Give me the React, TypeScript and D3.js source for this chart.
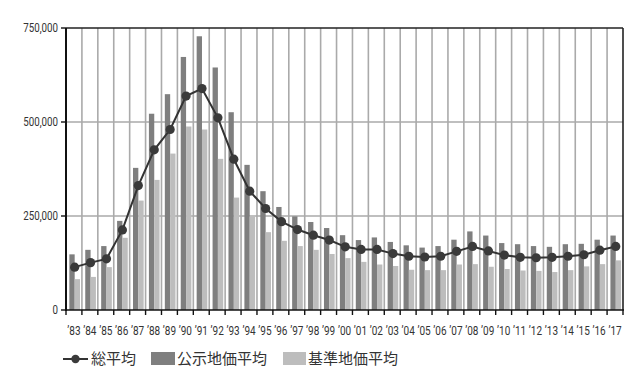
import React from "react";
import * as d3 from "d3";

const years = ["83","84","85","86","87","88","89","90","91","92","93","94","95","96","97","98","99","00","01","02","03","04","05","06","07","08","09","10","11","12","13","14","15","16","17"];
const kojiAvg = [148,160,170,237,378,522,574,673,728,645,526,386,316,274,249,234,218,199,186,193,181,172,166,170,187,209,198,178,175,170,168,175,176,187,198];
const kijunAvg = [82,88,114,192,291,346,416,488,480,402,299,250,207,184,170,160,149,138,128,121,117,107,106,106,121,122,115,109,105,104,101,106,116,122,132];
const totalAvg = [114,126,136,213,331,426,480,569,589,511,401,316,270,235,214,199,186,168,161,161,150,143,141,143,156,169,157,146,140,139,140,143,147,159,169];
const yTicks = [0, 250000, 500000, 750000];
const legendLabels = ["総平均", "公示地価平均", "基準地価平均"];

const W = 640, H = 380;
const left = 66, right = 623, top = 28, bottom = 310;
const DARK = "#7f7f7f", LIGHT = "#bdbdbd", LINE = "#333333", GRID = "#aaaaaa";
const numFont = "Roboto, 'Noto Sans', sans-serif";
const jpFont = "'Noto Sans CJK JP', sans-serif";

export default function App() {
  const x = d3.scaleBand<string>().domain(years).range([left, right]).padding(0);
  const bw = x.bandwidth();
  const inner = d3.scaleBand<string>().domain(["k", "j"]).range([bw * 0.21, bw * 0.88]).padding(0);
  const y = d3.scaleLinear().domain([0, 750000]).range([bottom, top]);
  const line = d3.line<number>()
    .x((_, i) => (x(years[i]) as number) + inner("j")!)
    .y((v) => y(v * 1000));
  const fmt = d3.format(",");
  const boundaries = years.map((yr) => x(yr) as number).concat([right]);

  return (
    <svg width={W} height={H} style={{ position: "absolute", left: 0, top: 0, background: "#fff" }}>
      {boundaries.slice(1, -1).map((bx, i) => (
        <line key={"vg" + i} x1={bx} x2={bx} y1={top} y2={bottom} stroke={GRID} strokeWidth={1.6} />
      ))}
      {yTicks.slice(1, -1).map((t) => (
        <line key={"hg" + t} x1={left} x2={right} y1={y(t)} y2={y(t)} stroke={GRID} strokeWidth={1.6} />
      ))}
      {years.map((yr, i) => (
        <g key={"b" + yr}>
          <rect x={(x(yr) as number) + inner("k")!} y={y(kojiAvg[i] * 1000)} width={inner.bandwidth()} height={bottom - y(kojiAvg[i] * 1000)} fill={DARK} />
          <rect x={(x(yr) as number) + inner("j")!} y={y(kijunAvg[i] * 1000)} width={inner.bandwidth()} height={bottom - y(kijunAvg[i] * 1000)} fill={LIGHT} />
        </g>
      ))}
      <line x1={left} x2={right} y1={top} y2={top} stroke="#222" strokeWidth={1.6} />
      <line x1={right} x2={right} y1={top} y2={bottom} stroke="#222" strokeWidth={1.6} />
      <line x1={left} x2={left} y1={top} y2={bottom + 1} stroke="#111" strokeWidth={2} />
      <line x1={left - 1} x2={right + 1} y1={bottom} y2={bottom} stroke="#111" strokeWidth={1.6} />
      {boundaries.map((bx, i) => (
        <line key={"xt" + i} x1={bx} x2={bx} y1={bottom} y2={bottom + 5} stroke="#111" strokeWidth={1.4} />
      ))}
      {yTicks.map((t) => (
        <g key={"yt" + t}>
          <line x1={left - 5} x2={left} y1={y(t)} y2={y(t)} stroke="#111" strokeWidth={1.4} />
          <text transform={`translate(${left - 8},${y(t)}) scale(0.78,1)`} dy="0.35em" textAnchor="end" fontFamily={numFont} fontSize={12.5} fill="#333">{fmt(t)}</text>
        </g>
      ))}
      {years.map((yr) => (
        <text key={"xl" + yr} transform={`translate(${(x(yr) as number) + bw / 2},331) scale(0.8,1)`} dy="0.35em" textAnchor="middle" fontFamily={numFont} fontSize={12.5} fill="#333">{"\u2019" + yr}</text>
      ))}
      <path d={line(totalAvg) || ""} fill="none" stroke={LINE} strokeWidth={2} />
      {totalAvg.map((v, i) => (
        <circle key={"c" + i} cx={(x(years[i]) as number) + inner("j")!} cy={y(v * 1000)} r={4.6} fill="#3a3a3a" />
      ))}
      <g>
        <line x1={63} x2={88} y1={359} y2={359} stroke={LINE} strokeWidth={2} />
        <circle cx={75.5} cy={359} r={4.2} fill="#3a3a3a" />
        <text x={91} y={359} dy="0.35em" fontFamily={jpFont} fontSize={15} fill="#333">{legendLabels[0]}</text>
        <rect x={151} y={352} width={24} height={13} fill={DARK} />
        <text x={177} y={359} dy="0.35em" fontFamily={jpFont} fontSize={15} fill="#333">{legendLabels[1]}</text>
        <rect x={283} y={352} width={23} height={13} fill={LIGHT} />
        <text x={308} y={359} dy="0.35em" fontFamily={jpFont} fontSize={15} fill="#333">{legendLabels[2]}</text>
      </g>
    </svg>
  );
}
